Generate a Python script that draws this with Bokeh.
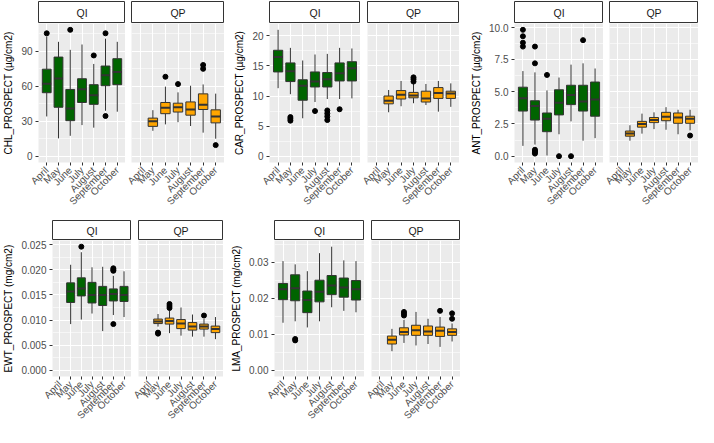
import math
from bokeh.plotting import figure
from bokeh.models import FactorRange, Range1d, FixedTicker, Label
from bokeh.layouts import row, column
from bokeh.embed import file_html
from bokeh.resources import INLINE

months = ["April", "May", "June", "July", "August", "September", "October"]
FONT = "Liberation Sans"

# ---------------- CHL_PROSPECT (µg/cm2) ----------------
chl_qi_lo = [34.1, 15.3, 17.5, 26.7, 24.5, 39.0, 38.2]
chl_qi_q1 = [54.5, 42.0, 30.5, 46.1, 44.5, 60.5, 61.4]
chl_qi_med = [62.2, 66.8, 40.9, 57.5, 52.4, 69.5, 72.3]
chl_qi_q3 = [74.7, 85.1, 57.3, 66.5, 61.4, 77.4, 83.7]
chl_qi_hi = [102.8, 98.2, 91.3, 95.9, 79.2, 100.9, 98.2]
chl_qi_out_m = ["April", "June", "August", "September", "September"]
chl_qi_out_v = [105.5, 108.5, 86.5, 105.5, 34.5]

chl_qp_lo = [None, 21.8, 27.3, 29.2, 25.9, 20.2, 15.0]
chl_qp_q1 = [None, 25.6, 36.5, 37.9, 35.2, 40.1, 28.6]
chl_qp_med = [None, 30.0, 41.5, 42.0, 40.1, 44.2, 34.1]
chl_qp_q3 = [None, 32.7, 46.1, 45.5, 46.6, 53.5, 39.8]
chl_qp_hi = [None, 39.5, 59.7, 54.8, 60.5, 61.6, 53.7]
chl_qp_out_m = ["June", "July", "September", "September", "October"]
chl_qp_out_v = [68.2, 61.9, 78.3, 75.0, 9.5]

chl_ticks = [0, 30, 60, 90]
chl_minor = [15, 45, 75, 105]
chl_labels = ["0", "30", "60", "90"]

# ---------------- CAR_PROSPECT (µg/cm2) ----------------
car_qi_lo = [11.3, 10.3, 6.3, 9.0, 9.5, 9.5, 9.6]
car_qi_q1 = [14.0, 12.4, 9.3, 11.5, 11.5, 12.5, 12.5]
car_qi_med = [16.5, 14.1, 11.7, 12.4, 12.8, 13.8, 14.6]
car_qi_q3 = [17.6, 15.5, 12.7, 14.0, 13.9, 15.5, 15.7]
car_qi_hi = [21.0, 18.0, 15.9, 16.9, 17.0, 18.0, 17.9]
car_qi_out_m = ["May", "May", "May", "July", "August", "August", "August", "August", "September"]
car_qi_out_v = [6.5, 6.2, 5.9, 7.5, 7.6, 7.1, 6.6, 6.0, 7.8]

car_qp_lo = [None, 7.3, 8.3, 8.8, 8.5, 7.4, 8.2]
car_qp_q1 = [None, 8.7, 9.5, 9.7, 9.0, 9.6, 9.6]
car_qp_med = [None, 9.2, 10.2, 10.1, 9.6, 10.5, 10.4]
car_qp_q3 = [None, 10.0, 10.9, 10.6, 10.8, 11.4, 10.8]
car_qp_hi = [None, 11.0, 12.5, 12.0, 12.0, 12.5, 12.1]
car_qp_out_m = ["July", "July", "July"]
car_qp_out_v = [13.1, 12.8, 12.4]

car_ticks = [0, 5, 10, 15, 20]
car_minor = [2.5, 7.5, 12.5, 17.5]
car_labels = ["0", "5", "10", "15", "20"]

# ---------------- ANT_PROSPECT (µg/cm2) ----------------
ant_qi_lo = [0.8, 0.9, 0.05, 1.7, 2.7, 1.2, 1.4]
ant_qi_q1 = [3.5, 2.8, 1.9, 3.2, 4.0, 3.5, 3.1]
ant_qi_med = [4.5, 3.9, 2.9, 4.15, 4.75, 4.25, 4.4]
ant_qi_q3 = [5.35, 4.3, 3.35, 5.15, 5.5, 5.5, 5.75]
ant_qi_hi = [6.6, 6.5, 5.1, 6.1, 7.1, 7.2, 6.8]
ant_qi_out_m = ["April", "April", "April", "April", "May", "May", "May", "May", "May", "May",
                "June", "July", "August", "September"]
ant_qi_out_v = [9.8, 9.3, 8.8, 8.5, 8.5, 7.2, 0.5, 0.4, 0.3, 0.2, 6.3, 0.0, 0.0, 9.0]

ant_qp_lo = [None, 1.2, 1.75, 2.1, 2.05, 1.7, 2.0]
ant_qp_q1 = [None, 1.55, 2.25, 2.6, 2.75, 2.55, 2.55]
ant_qp_med = [None, 1.75, 2.5, 2.8, 3.05, 3.0, 2.9]
ant_qp_q3 = [None, 1.95, 2.7, 3.0, 3.4, 3.35, 3.1]
ant_qp_hi = [None, 2.4, 3.3, 3.4, 3.8, 3.6, 3.6]
ant_qp_out_m = ["October"]
ant_qp_out_v = [1.6]

ant_ticks = [0, 2.5, 5, 7.5, 10]
ant_minor = [1.25, 3.75, 6.25, 8.75]
ant_labels = ["0.0", "2.5", "5.0", "7.5", "10.0"]

# ---------------- EWT_PROSPECT (mg/cm2) ----------------
ewt_qi_lo = [None, 0.0092, 0.0101, 0.0113, 0.0078, 0.0110, 0.0106]
ewt_qi_q1 = [None, 0.0135, 0.0148, 0.0134, 0.0129, 0.0138, 0.0137]
ewt_qi_med = [None, 0.0157, 0.0163, 0.0150, 0.0150, 0.0152, 0.0150]
ewt_qi_q3 = [None, 0.0174, 0.0184, 0.0175, 0.0167, 0.0162, 0.0167]
ewt_qi_hi = [None, 0.0210, 0.0235, 0.0205, 0.0206, 0.0188, 0.0197]
ewt_qi_out_m = ["June", "September", "September", "September", "September"]
ewt_qi_out_v = [0.0246, 0.0203, 0.0200, 0.0198, 0.0092]

ewt_qp_lo = [None, 0.0087, 0.0074, 0.0069, 0.0067, 0.0067, 0.0062]
ewt_qp_q1 = [None, 0.0093, 0.0092, 0.0083, 0.0080, 0.0082, 0.0075]
ewt_qp_med = [None, 0.0097, 0.0098, 0.0093, 0.0087, 0.0087, 0.0082]
ewt_qp_q3 = [None, 0.0102, 0.0104, 0.0101, 0.0095, 0.0092, 0.0088]
ewt_qp_hi = [None, 0.0112, 0.0119, 0.0125, 0.0111, 0.0102, 0.0106]
ewt_qp_out_m = ["May", "May", "June", "June", "June", "September"]
ewt_qp_out_v = [0.0075, 0.0073, 0.0132, 0.0128, 0.0124, 0.0109]

ewt_ticks = [0, 0.005, 0.01, 0.015, 0.02, 0.025]
ewt_minor = [0.0025, 0.0075, 0.0125, 0.0175, 0.0225]
ewt_labels = ["0.000", "0.005", "0.010", "0.015", "0.020", "0.025"]

# ---------------- LMA_PROSPECT (mg/cm2) ----------------
lma_qi_lo = [0.0132, 0.0136, 0.0119, 0.0136, 0.0175, 0.0165, 0.0161]
lma_qi_q1 = [0.0196, 0.0193, 0.0160, 0.0190, 0.0210, 0.0203, 0.0195]
lma_qi_med = [0.0225, 0.0228, 0.0195, 0.0218, 0.0235, 0.0230, 0.0225]
lma_qi_q3 = [0.0241, 0.0265, 0.0220, 0.0250, 0.0263, 0.0256, 0.0249]
lma_qi_hi = [0.0303, 0.0294, 0.0275, 0.0325, 0.0343, 0.0305, 0.0303]
lma_qi_out_m = ["May", "May"]
lma_qi_out_v = [0.0087, 0.0083]

lma_qp_lo = [None, 0.0053, 0.0076, 0.0069, 0.0073, 0.0065, 0.0080]
lma_qp_q1 = [None, 0.0073, 0.0098, 0.0097, 0.0097, 0.0094, 0.0097]
lma_qp_med = [None, 0.0085, 0.0106, 0.0111, 0.0108, 0.0110, 0.0106]
lma_qp_q3 = [None, 0.0095, 0.0118, 0.0125, 0.0123, 0.0120, 0.0115]
lma_qp_hi = [None, 0.0115, 0.0140, 0.0162, 0.0143, 0.0148, 0.0130]
lma_qp_out_m = ["June", "June", "June", "September", "October", "October"]
lma_qp_out_v = [0.0162, 0.0157, 0.0152, 0.0165, 0.0158, 0.0143]

lma_ticks = [0, 0.01, 0.02, 0.03]
lma_minor = [0.005, 0.015, 0.025, 0.035]
lma_labels = ["0.00", "0.01", "0.02", "0.03"]

COLORS = {"QI": "#006400", "QP": "#FFA500"}


def yrange(*lists):
    vals = [v for l in lists for v in l if v is not None]
    lo, hi = min(0, min(vals)), max(vals)
    pad = 0.05 * (hi - lo)
    return lo - pad, hi + pad


def strip(text, left, fw, h, top):
    s = figure(width=left + fw, height=h, x_range=Range1d(0, 1), y_range=Range1d(0, 1),
               x_axis_type=None, y_axis_type=None, title=None,
               min_border_left=left, min_border_right=0, min_border_top=top, min_border_bottom=0,
               toolbar_location=None, output_backend="svg")
    s.grid.visible = False
    s.background_fill_color = "white"
    s.border_fill_color = "white"
    s.outline_line_color = "#333333"
    s.outline_line_width = 1
    s.add_layout(Label(x=0.5, y=0.5, text=text, text_align="center", text_baseline="middle",
                       text_font_size="10.5px", text_color="#1A1A1A", text_font=FONT))
    return s


def panel(site, lo, q1, med, q3, hi, out_m, out_v, yr, ticks, minor, labels,
          left, fw, fh, bottom, ylabel):
    p = figure(width=left + fw, height=fh + bottom,
               x_range=FactorRange(factors=months, range_padding=0.2, range_padding_units="absolute"),
               y_range=Range1d(*yr), title=None,
               min_border_left=left, min_border_right=0, min_border_top=0, min_border_bottom=bottom,
               toolbar_location=None, output_backend="svg")
    p.background_fill_color = "#EBEBEB"
    p.border_fill_color = "white"
    p.outline_line_color = None

    tk = FixedTicker(ticks=ticks, minor_ticks=minor)
    p.yaxis.ticker = tk
    p.ygrid.ticker = tk
    p.ygrid.grid_line_color = "white"
    p.ygrid.grid_line_width = 1.1
    p.ygrid.minor_grid_line_color = "white"
    p.ygrid.minor_grid_line_width = 0.55
    p.xgrid.grid_line_color = "white"
    p.xgrid.grid_line_width = 1.1

    for ax in (p.xaxis, p.yaxis):
        ax.axis_line_color = None
        ax.major_tick_line_color = "#333333"
        ax.major_tick_out = 3
        ax.major_tick_in = 0
        ax.minor_tick_line_color = None
        ax.major_label_text_color = "#4D4D4D"
        ax.major_label_text_font = FONT
        ax.major_label_standoff = 2
    p.xaxis.major_label_orientation = math.pi / 4
    p.xaxis.major_label_text_font_size = "10px"
    p.xaxis.major_label_standoff = 3
    p.yaxis.major_label_text_font_size = "10px"
    p.yaxis.major_label_overrides = dict(zip(ticks, labels))

    if ylabel:
        p.yaxis.axis_label = ylabel
        p.yaxis.axis_label_text_font = FONT
        p.yaxis.axis_label_text_font_size = "10px"
        p.yaxis.axis_label_text_font_style = "normal"
        p.yaxis.axis_label_text_color = "black"
        p.yaxis.axis_label_standoff = 4
    else:
        p.yaxis.visible = False

    xs = [m for m, v in zip(months, q1) if v is not None]
    f = lambda l: [v for v in l if v is not None]
    lo, q1, med, q3, hi = f(lo), f(q1), f(med), f(q3), f(hi)
    p.segment(x0=xs, y0=lo, x1=xs, y1=q1, line_color="#333333", line_width=1)
    p.segment(x0=xs, y0=q3, x1=xs, y1=hi, line_color="#333333", line_width=1)
    p.vbar(x=xs, bottom=q1, top=q3, width=0.75, fill_color=COLORS[site],
           line_color="#333333", line_width=1)
    p.vbar(x=xs, bottom=med, top=med, width=0.75, fill_color=None,
           line_color="#333333", line_width=2)
    p.scatter(x=out_m, y=out_v, size=5, fill_color="black", line_color="black")
    return p


def block(name, data_qi, data_qp, ticks, minor, labels, geo, fh, bottom, sh, stop):
    yr = yrange(*data_qi[:5], *data_qp[:5], data_qi[6], data_qp[6])
    (l1, w1), (l2, w2) = geo
    c1 = column(strip("QI", l1, w1, sh, stop),
                panel("QI", *data_qi, yr, ticks, minor, labels, l1, w1, fh, bottom, name))
    c2 = column(strip("QP", l2, w2, sh, stop),
                panel("QP", *data_qp, yr, ticks, minor, labels, l2, w2, fh, bottom, None))
    return [c1, c2]


top_cols = []
top_cols += block("CHL_PROSPECT (µg/cm2)",
                  [chl_qi_lo, chl_qi_q1, chl_qi_med, chl_qi_q3, chl_qi_hi, chl_qi_out_m, chl_qi_out_v],
                  [chl_qp_lo, chl_qp_q1, chl_qp_med, chl_qp_q3, chl_qp_hi, chl_qp_out_m, chl_qp_out_v],
                  chl_ticks, chl_minor, chl_labels, [(32, 93), (6, 93)], 139, 56, 23, 1)
top_cols += block("CAR_PROSPECT (µg/cm2)",
                  [car_qi_lo, car_qi_q1, car_qi_med, car_qi_q3, car_qi_hi, car_qi_out_m, car_qi_out_v],
                  [car_qp_lo, car_qp_q1, car_qp_med, car_qp_q3, car_qp_hi, car_qp_out_m, car_qp_out_v],
                  car_ticks, car_minor, car_labels, [(45, 91), (7, 92)], 139, 56, 23, 1)
top_cols += block("ANT_PROSPECT (µg/cm2)",
                  [ant_qi_lo, ant_qi_q1, ant_qi_med, ant_qi_q3, ant_qi_hi, ant_qi_out_m, ant_qi_out_v],
                  [ant_qp_lo, ant_qp_q1, ant_qp_med, ant_qp_q3, ant_qp_hi, ant_qp_out_m, ant_qp_out_v],
                  ant_ticks, ant_minor, ant_labels, [(55, 89), (6, 89)], 139, 56, 23, 1)

bot_cols = []
bot_cols += block("EWT_PROSPECT (mg/cm2)",
                  [ewt_qi_lo, ewt_qi_q1, ewt_qi_med, ewt_qi_q3, ewt_qi_hi, ewt_qi_out_m, ewt_qi_out_v],
                  [ewt_qp_lo, ewt_qp_q1, ewt_qp_med, ewt_qp_q3, ewt_qp_hi, ewt_qp_out_m, ewt_qp_out_v],
                  ewt_ticks, ewt_minor, ewt_labels, [(46, 85), (7, 85)], 141, 46, 22, 2)
bot_cols += block("LMA_PROSPECT (mg/cm2)",
                  [lma_qi_lo, lma_qi_q1, lma_qi_med, lma_qi_q3, lma_qi_hi, lma_qi_out_m, lma_qi_out_v],
                  [lma_qp_lo, lma_qp_q1, lma_qp_med, lma_qp_q3, lma_qp_hi, lma_qp_out_m, lma_qp_out_v],
                  lma_ticks, lma_minor, lma_labels, [(51, 90), (7, 89)], 141, 46, 22, 2)

layout = column(row(*top_cols), row(*bot_cols))

open("out.html", "w").write(file_html(layout, INLINE))
